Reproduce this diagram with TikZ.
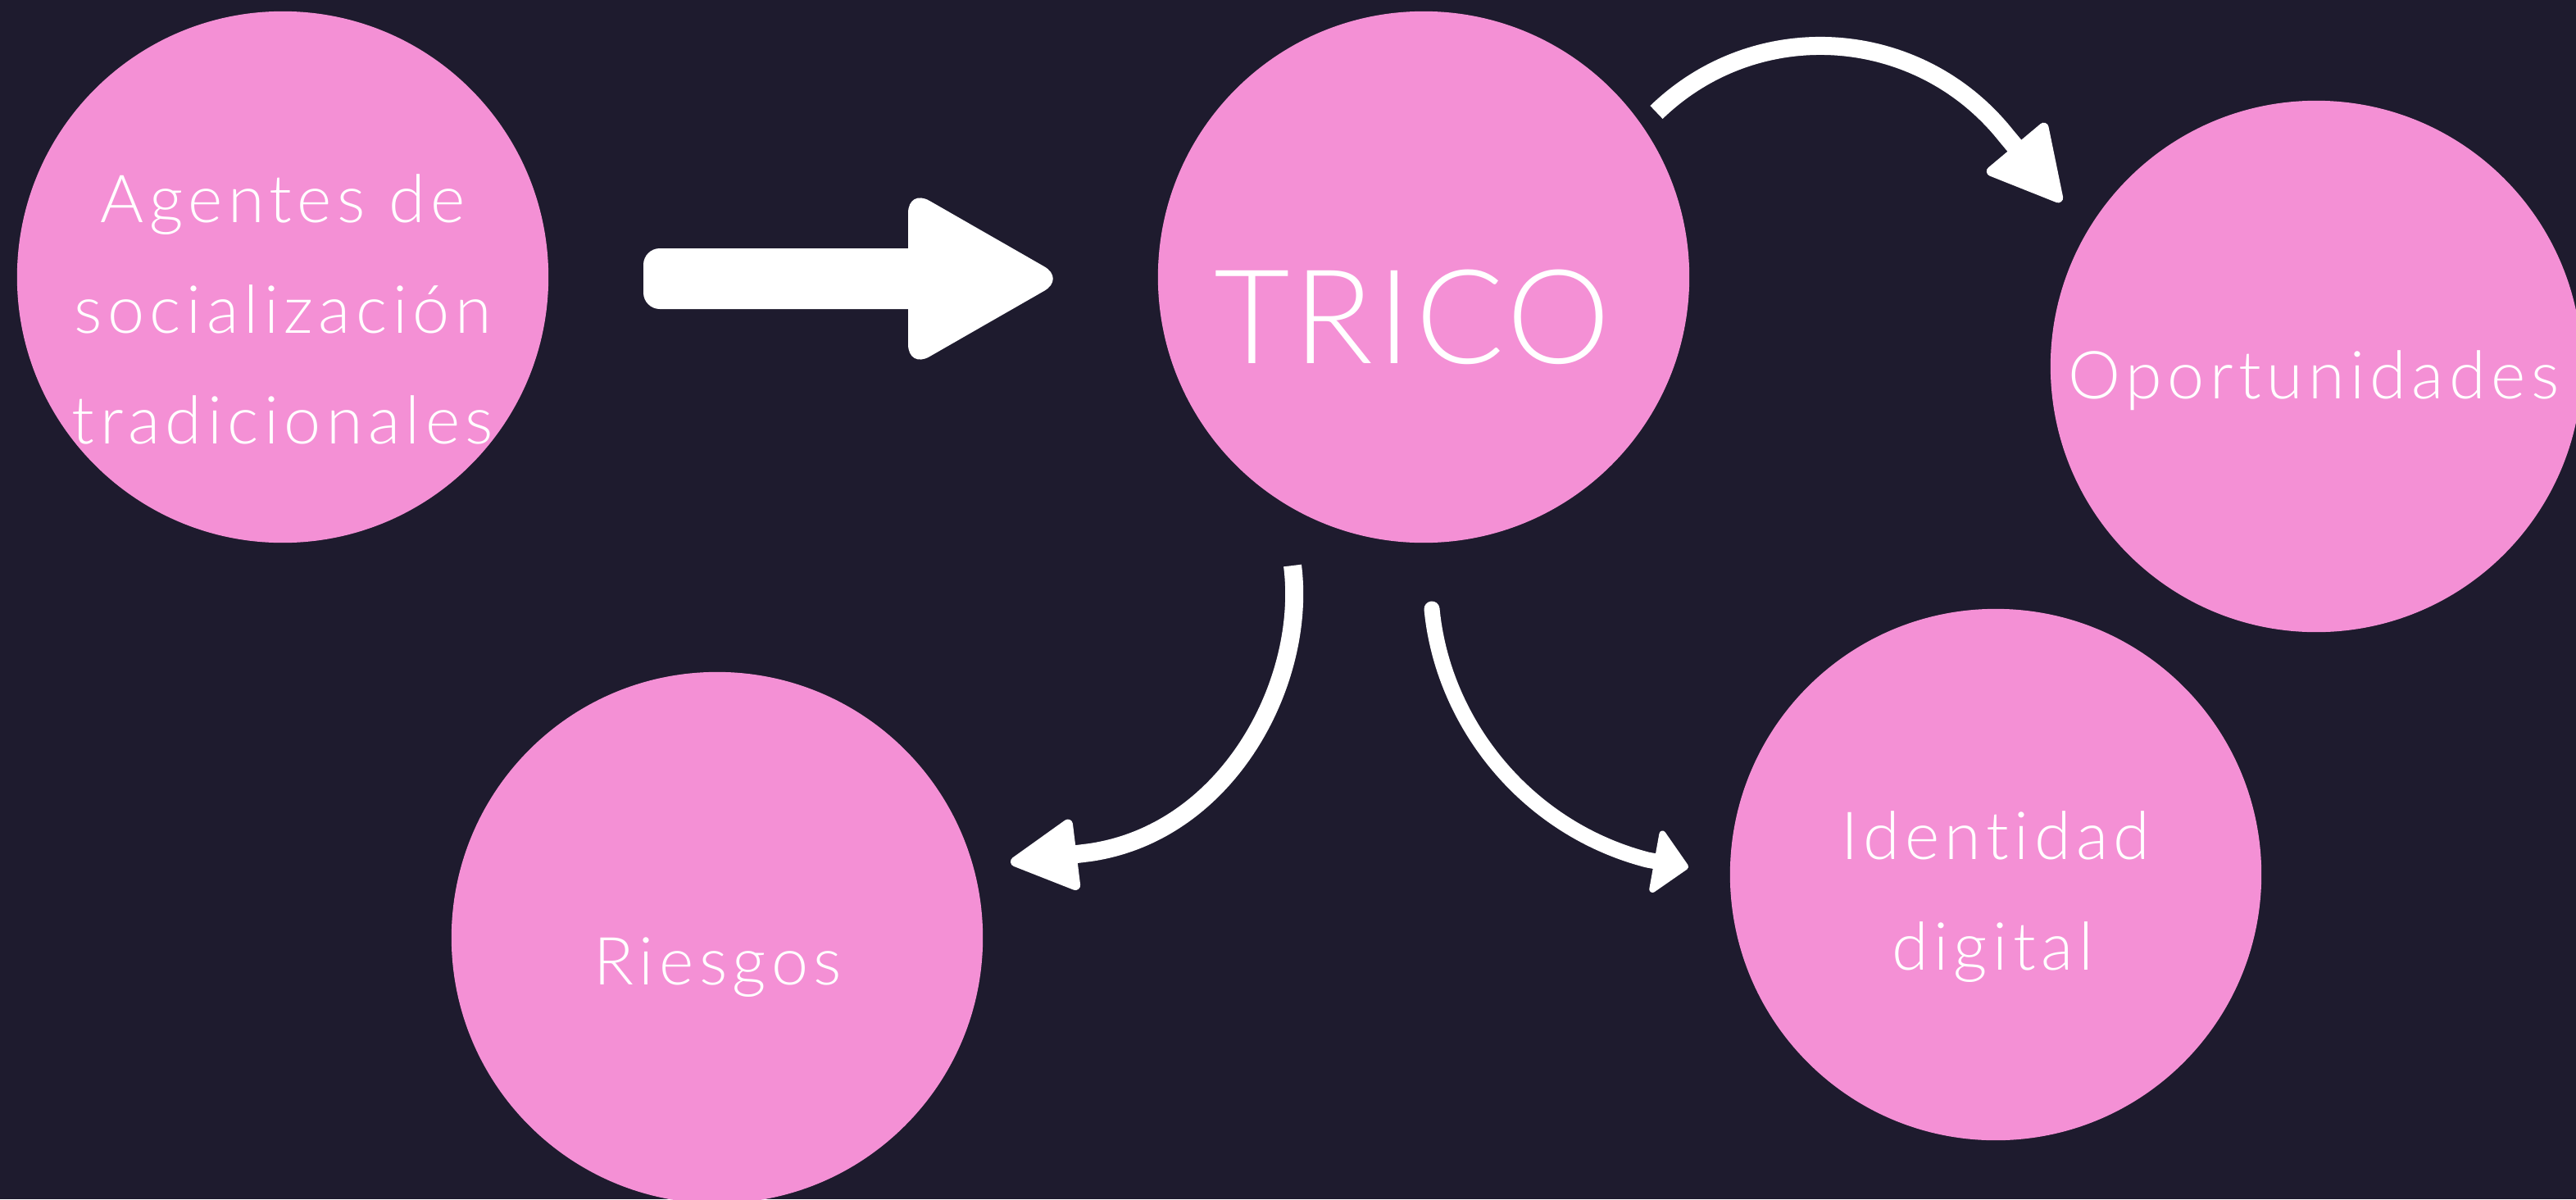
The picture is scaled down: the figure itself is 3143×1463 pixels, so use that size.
\documentclass[tikz,border=0pt]{standalone}
\usepackage{fontspec}
\setmainfont{Lato}[UprightFont=* Light, Ligatures=NoCommon]
\newfontfamily\lblfont{Lato}[UprightFont=* Light, Ligatures=NoCommon, LetterSpace=8]
\newfontfamily\bigfont{Lato}[UprightFont=* Light, Ligatures=NoCommon, LetterSpace=3]
\usetikzlibrary{arrows.meta,calc}
\definecolor{bgc}{HTML}{1E1B2E}
\definecolor{pinkc}{HTML}{F490D5}
\begin{document}
\begin{tikzpicture}[x=0.01cm,y=-0.01cm,
  circ/.style={circle, fill=pinkc, minimum size=6.48cm, inner sep=0pt},
  lbl/.style={text=white, anchor=base, inner sep=0pt, font=\lblfont\fontsize{23}{28}\selectfont},
  big/.style={text=white, anchor=base, inner sep=0pt, font=\bigfont\fontsize{45.5}{50}\selectfont},
  curvearrow/.style={draw=white, line width=0.22cm}]
\useasboundingbox (0,0) rectangle (3143,1463);
\fill[bgc] (0,0) rectangle (3143,1463);
% circles
\node[circ] (agentes) at (345,338) {};
\node[circ] (trico) at (1737,338) {};
\node[circ] (oport) at (2826,447) {};
\node[circ] (riesgos) at (875,1144) {};
\node[circ] (ident) at (2435,1067) {};
% labels
\node[lbl] (ag1) at (345,271) {Agentes de};
\node[lbl] (ag2) at (345,406) {socialización};
\node[lbl] (ag3) at (345,541) {tradicionales};
\node[big] (tr) at (1723,443) {TRICO};
\node[lbl] (op) at (2823,486) {Oportunidades};
\node[lbl] (ri) at (876,1201) {Riesgos};
\node[lbl] (id1) at (2435,1048) {Identidad};
\node[lbl] (id2) at (2431,1183) {digital};
% block arrow
\coordinate (b1) at (785,340);
\coordinate (b2) at (1300,340);
\fill[white, rounded corners=0.2cm] ($(b1)+(0,-37)$) rectangle ($(b2)+(-160,37)$);
\fill[white, rounded corners=0.3cm] (b2) -- ($(b2)+(-192,-110)$) -- ($(b2)+(-192,110)$) -- cycle;
% curved arrow to Oportunidades
\coordinate (o1) at (2021,137);
\coordinate (o1b) at (2448,166);
\coordinate (o2) at (2515,246);
\draw[curvearrow, -{Triangle[length=0.96cm,width=1.0cm,line width=0.12cm,round]}]
  (o1) .. controls (2144,18) and (2342,32) .. (o1b) -- (o2);
% curved arrow to Riesgos
\coordinate (r1) at (1577,690);
\coordinate (r1b) at (1330,1040);
\coordinate (r2) at (1233,1052);
\draw[curvearrow, -{Triangle[length=0.88cm,width=0.92cm,line width=0.12cm,round]}]
  (r1) .. controls (1595,830) and (1500,1015) .. (r1b) -- (r2);
% curved arrow to Identidad
\coordinate (i1) at (1747,743);
\coordinate (i1b) at (2010,1049);
\coordinate (i2) at (2060,1058);
\draw[curvearrow, line width=0.19cm, line cap=round, -{Triangle[length=0.44cm,width=0.86cm,line width=0.08cm,round]}]
  (i1) .. controls (1760,880) and (1860,1010) .. (i1b) -- (i2);
\end{tikzpicture}
\end{document}
